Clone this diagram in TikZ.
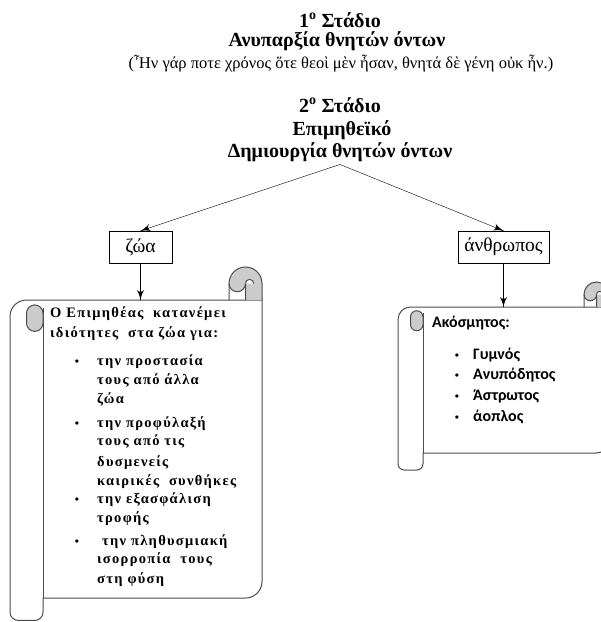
\documentclass[tikz,border=0pt]{standalone}
\usepackage{fontspec}
\setmainfont{Liberation Serif}
\newfontfamily\calibri{Carlito}
\newfontfamily\spaced[LetterSpace=9]{Liberation Serif}
\usetikzlibrary{arrows}
\usetikzlibrary{decorations.markings}
\usetikzlibrary{positioning}
\tikzset{->-/.style = {decoration={markings,
                                   mark=at position #1 with {\arrow[scale=2.5]{latex'}}},
                       postaction={decorate}}}
\tikzset{word/.style = {draw, minimum height = 32, inner sep = 0,
                        font = \fontsize{19.5}{19.5}\selectfont}}
\tikzset{title/.style = {anchor = base, inner sep = 3,
                         font = \bfseries\fontsize{20}{20}\selectfont}}
\tikzset{zline/.style = {anchor = base west, inner sep = 0,
                         font = \spaced\bfseries\fontsize{14.5}{14.5}\selectfont}}
\tikzset{aline/.style = {anchor = base west, inner sep = 0,
                         font = \calibri\bfseries\fontsize{16}{16}\selectfont}}
\tikzset{dot/.style = {anchor = base, inner sep = 0,
                       font = \bfseries\fontsize{12}{12}\selectfont}}
\tikzset{scrollline/.style = {draw = black!70, line width = 1}}
\definecolor{sgray}{rgb}{0.8, 0.8, 0.8}

% scroll: left of roll, top, right, bottom, roll width
\newcommand{\vscroll}[5]{%
  \pgfmathsetmacro{\sL}{#1}%
  \pgfmathsetmacro{\sT}{#2}%
  \pgfmathsetmacro{\sR}{#3}%
  \pgfmathsetmacro{\sB}{#4}%
  \pgfmathsetmacro{\sc}{#5}%
  \pgfmathsetmacro{\sh}{#5/2}%
  \pgfmathsetmacro{\sq}{#5/4}%
  \pgfmathsetmacro{\sE}{#4+0.68*#5}%
  \draw [scrollline, fill = white] (\sL, \sT+\sh)
    arc [start angle = 180, end angle = 270, radius = \sh]
    -- (\sR, \sT) -- (\sR, \sB-\sh)
    arc [start angle = 0, end angle = 90, radius = \sh]
    -- (\sL+\sc, \sB) -- (\sL+\sc, \sE-\sq)
    arc [start angle = 0, end angle = 90, radius = \sq]
    -- (\sL+\sq, \sE)
    arc [start angle = 90, end angle = 180, radius = \sq] -- cycle;
  \draw [scrollline] (\sL+\sc, \sT+\sq) -- (\sL+\sc, \sB);
  \draw [scrollline, fill = sgray] (\sL+\sh, \sT+0.7*\sc) -- (\sL+\sh, \sT+0.4*\sc)
    arc [start angle = 180, end angle = 360, radius = \sq]
    -- (\sL+\sc, \sT+0.7*\sc)
    arc [start angle = 0, end angle = 180, radius = \sq] -- cycle;
  \fill [sgray] (\sR-\sc, \sT-\sh)
    arc [start angle = 180, end angle = 360, radius = \sh]
    -- (\sR, \sT) -- (\sR-\sh, \sT) -- (\sR-\sh, \sT-\sh)
    arc [start angle = 0, end angle = 180, radius = \sq] -- cycle;
  \draw [scrollline] (\sR-\sc, \sT) -- (\sR-\sc, \sT-\sh)
    arc [start angle = 180, end angle = 360, radius = \sh] -- (\sR, \sT);
  \draw [scrollline] (\sR-\sc, \sT-\sh)
    arc [start angle = 180, end angle = 0, radius = \sq] -- (\sR-\sh, \sT);
  \draw [scrollline, fill = white] (\sR-\sh, \sT-\sh)
    arc [start angle = 180, end angle = 360, radius = \sq/2];
}

\begin{document}
\begin{tikzpicture}[x = 1pt, y = -1pt]
  \useasboundingbox (0, 0) rectangle (601, 622);

  \node (st1) [title] at (340, 27) {1\textsuperscript{ο} Στάδιο};
  \node (st1b) [title] at (337, 46) {Ανυπαρξία θνητών όντων};
  \node (quote) [anchor = base, font = \fontsize{16.5}{16.5}\selectfont] at (341, 68)
    {(Ἦν γάρ ποτε χρόνος ὅτε θεοὶ μὲν ἦσαν, θνητά δὲ γένη οὐκ ἦν.)};

  \node (st2) [title] at (340, 112) {2\textsuperscript{ο} Στάδιο};
  \node (st2b) [title] at (342, 135) {Επιμηθεϊκό};
  \node (st2c) [title] at (340, 157) {Δημιουργία θνητών όντων};

  \node (zoa) [word, minimum width = 63] at (140.5, 247) {ζώα};
  \node (anthr) [word, minimum width = 91] at (503.5, 247) {άνθρωπος};

  \vscroll{10}{300}{262}{598}{33}
  \vscroll{398}{307}{609}{453}{25}

  \coordinate (zoatop) at (140.5, 300);
  \coordinate (anthrtop) at (503.5, 307);

  \draw [->-=1] (st2c.south) -- (zoa.north);
  \draw [->-=1] (st2c.south) -- (anthr.north);
  \draw [->-=1] (zoa.south) -- (zoatop);
  \draw [->-=1] (anthr.south) -- (anthrtop);

  \node (zintro) [zline] at (50, 317) {Ο Επιμηθέας\ \ κατανέμει};
  \node (zintrob) [zline] at (50, 337) {ιδιότητες\ \ στα ζώα για:};
  \foreach \y [count = \i] in {365, 427, 503, 545}
    \node (zb\i) [dot] at (77, \y) {\textbullet};
  \foreach \y/\t [count = \i] in {365/την προστασία, 384/τους από άλλα, 403/ζώα,
                                  427/την προφύλαξή, 445/τους από τις, 466/δυσμενείς,
                                  485/καιρικές\ \ συνθήκες, 503/την εξασφάλιση,
                                  522/τροφής, 545/\ την πληθυσμιακή,
                                  563/ισορροπία\ \ τους, 583/στη φύση}
    \node (z\i) [zline] at (97, \y) {\t};

  \node (aintro) [aline] at (432, 327) {Ακόσμητος:};
  \foreach \y/\t [count = \i] in {359/Γυμνός, 379/Ανυπόδητος, 400/Άστρωτος, 421/άοπλος}
  {
    \node (ab\i) [dot] at (457, \y) {\textbullet};
    \node (a\i) [aline] at (473, \y) {\t};
  }
\end{tikzpicture}
\end{document}
